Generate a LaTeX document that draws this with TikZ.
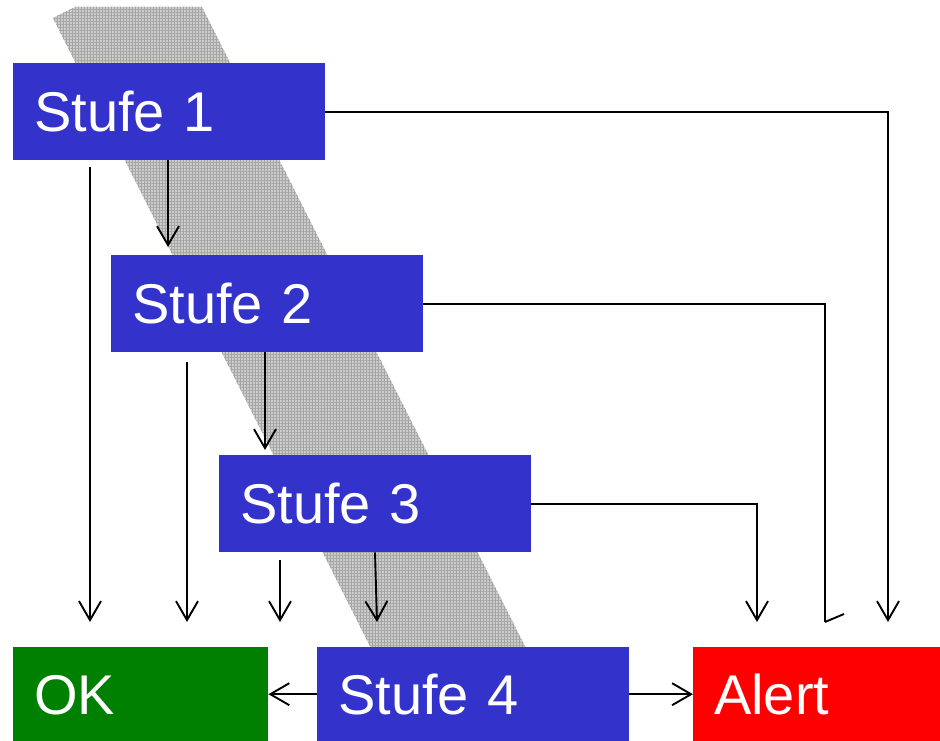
\documentclass[tikz,border=0pt]{standalone}
\usepackage{fontspec}
\setmainfont{Liberation Sans}
\usetikzlibrary{arrows.meta,patterns.meta}

\definecolor{stepblue}{RGB}{51,51,204}
\definecolor{okgreen}{RGB}{0,128,0}
\definecolor{alertred}{RGB}{255,0,0}
\definecolor{bandgray}{RGB}{204,204,204}
\definecolor{bandgrid}{RGB}{165,165,165}

\tikzset{
  box/.style={fill=#1, text=white, anchor=north west, inner sep=0pt,
    inner xsep=21pt, minimum height=97pt, text height=40pt, text depth=0pt,
    align=left, font=\fontsize{56}{60}\selectfont},
  stepbox/.style={box=stepblue, text width=270pt},
  endbox/.style={box=#1, minimum height=94pt},
  conn/.style={line width=1.9pt, black},
  arr/.style={conn, -{Straight Barb[length=19pt, width=22pt, line width=1.9pt]}},
}

\begin{document}
\begin{tikzpicture}[x=1pt, y=-1pt]
  \useasboundingbox (0,0) rectangle (940,741);

  % slanted grey band behind the step boxes, with a fine grid texture
  \path[fill=bandgray] (53,18) -- (75,7) -- (202,7) -- (532,660) -- (377,660) -- cycle;
  \path[pattern={Lines[angle=0, distance=3pt, line width=0.5pt]}, pattern color=bandgrid]
    (53,18) -- (75,7) -- (202,7) -- (532,660) -- (377,660) -- cycle;
  \path[pattern={Lines[angle=90, distance=3pt, line width=0.5pt]}, pattern color=bandgrid]
    (53,18) -- (75,7) -- (202,7) -- (532,660) -- (377,660) -- cycle;

  % boxes
  \node[stepbox] (s1) at (13,63)  {Stufe 1};
  \node[stepbox] (s2) at (111,255) {Stufe 2};
  \node[stepbox] (s3) at (219,455) {Stufe 3};
  \node[stepbox, minimum height=94pt] (s4) at (317,647) {Stufe 4};
  \node[endbox=okgreen, text width=213pt] (ok) at (13,647) {OK};
  \node[endbox=alertred, text width=205pt] (alert) at (693,647) {Alert};

  % arrow end points above the bottom row
  \coordinate (okA) at ([xshift=77pt, yshift=25pt]ok.north west);
  \coordinate (okB) at ([xshift=174pt, yshift=25pt]ok.north west);
  \coordinate (okC) at ([xshift=267pt, yshift=25pt]ok.north west);
  \coordinate (s4in) at ([xshift=60pt, yshift=25pt]s4.north west);
  \coordinate (alA) at ([xshift=64pt, yshift=25pt]alert.north west);
  \coordinate (alB) at ([xshift=132pt, yshift=25pt]alert.north west);
  \coordinate (alC) at ([xshift=195pt, yshift=25pt]alert.north west);

  % step to next step
  \draw[arr] ([xshift=155pt]s1.south west) -- ([xshift=57pt, yshift=8pt]s2.north west);
  \draw[arr] ([xshift=154pt]s2.south west) -- ([xshift=46pt, yshift=5pt]s3.north west);
  \draw[arr] ([xshift=156pt]s3.south west) -- (s4in);

  % steps down to OK
  \draw[arr] ([xshift=77pt, yshift=-7pt]s1.south west) -- (okA);
  \draw[arr] ([xshift=76pt, yshift=-10pt]s2.south west) -- (okB);
  \draw[arr] ([xshift=61pt, yshift=-8pt]s3.south west) -- (okC);

  % steps across to Alert
  \draw[arr] (s1.east) -| (alC);
  \draw[conn] (s2.east) -| (alB);
  \draw[conn] (alB) -- ++(19,-8);
  \draw[arr] (s3.east) -| (alA);

  % last step
  \draw[arr] (s4.west) -- (ok.east);
  \draw[arr] (s4.east) -- (alert.west);
\end{tikzpicture}
\end{document}
